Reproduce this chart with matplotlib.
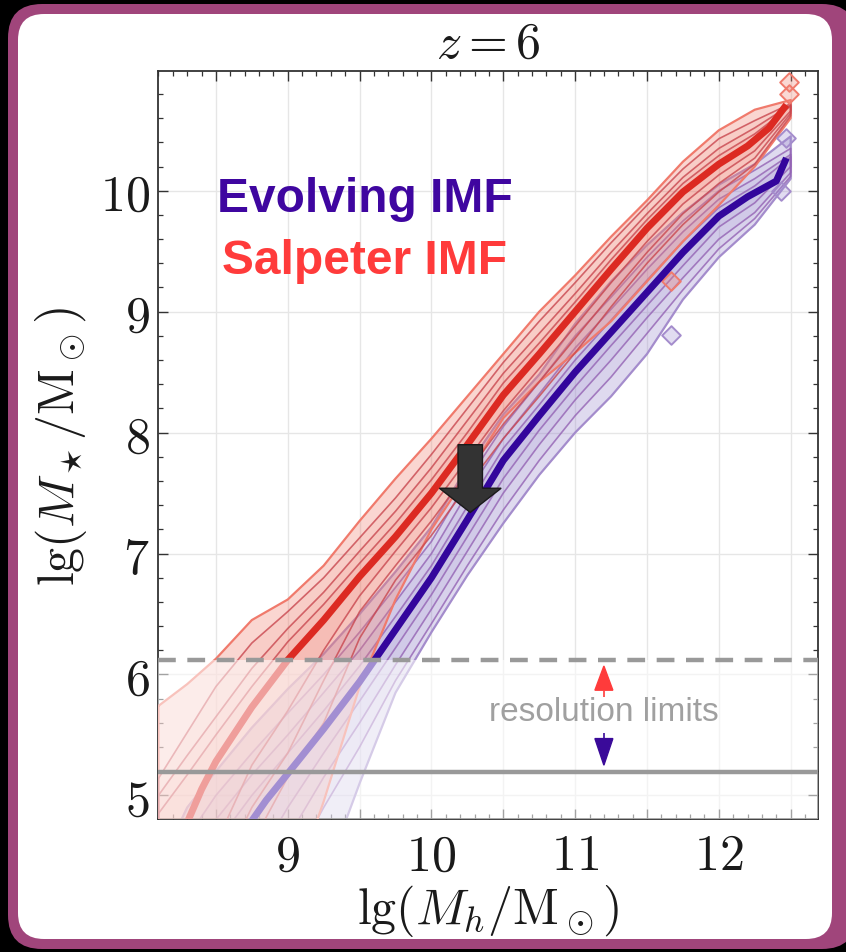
import matplotlib
matplotlib.use("Agg")
import matplotlib.pyplot as plt
from matplotlib.patches import FancyBboxPatch, FancyArrow
from matplotlib.ticker import MultipleLocator, FuncFormatter

plt.rcParams['mathtext.fontset'] = 'cm'
plt.rcParams['font.family'] = ['DejaVu Sans']

# ---------------- data ----------------
XB = [8.1, 8.3, 8.5, 8.75, 9.0, 9.25, 9.5, 9.75, 10.0, 10.25, 10.5,
      10.75, 11.0, 11.25, 11.5, 11.75, 12.0, 12.25, 12.5]

# Salpeter IMF contours
sal_outer_hi = [5.74, 5.92, 6.13, 6.45, 6.62, 6.90, 7.27, 7.62, 7.95, 8.30, 8.65, 9.00, 9.30, 9.62, 9.92, 10.24, 10.50, 10.67, 10.75]
sal_outer_lo = [3.5, 3.6, 3.8, 3.9, 4.1, 4.95, 5.9, 6.62, 7.2, 7.65, 8.12, 8.42, 8.66, 8.92, 9.25, 9.58, 9.88, 10.2, 10.6]
sal_l2_hi = [5.14, 5.52, 5.9, 6.26, 6.52, 6.8, 7.13, 7.46, 7.82, 8.2, 8.58, 8.92, 9.24, 9.57, 9.88, 10.18, 10.43, 10.58, 10.72]
sal_l2_lo = [3.4, 3.6, 4.0, 4.6, 5.15, 5.6, 6.3, 6.78, 7.15, 7.56, 7.95, 8.3, 8.66, 9.04, 9.40, 9.72, 9.99, 10.22, 10.62]
sal_l3_hi = [5.0, 5.33, 5.65, 6.05, 6.38, 6.68, 7.02, 7.35, 7.71, 8.1, 8.49, 8.82, 9.15, 9.49, 9.81, 10.11, 10.35, 10.52, 10.71]
sal_l3_lo = [3.5, 3.8, 4.3, 4.9, 5.35, 5.95, 6.52, 6.9, 7.27, 7.67, 8.07, 8.42, 8.78, 9.14, 9.49, 9.81, 10.06, 10.27, 10.64]
sal_l4_hi = [4.85, 5.17, 5.5, 5.9, 6.27, 6.58, 6.92, 7.25, 7.61, 8.0, 8.41, 8.74, 9.08, 9.43, 9.76, 10.06, 10.29, 10.47, 10.70]
sal_l4_lo = [3.6, 4.0, 4.6, 5.25, 5.7, 6.2, 6.65, 7.02, 7.38, 7.78, 8.18, 8.53, 8.88, 9.24, 9.58, 9.89, 10.13, 10.33, 10.66]
sal_med_x = [8.28, 8.4, 8.5, 8.75, 9.0, 9.25, 9.5, 9.75, 10.0, 10.25, 10.5, 10.75, 11.0, 11.25, 11.5, 11.75, 12.0, 12.2, 12.35, 12.47]
sal_med_y = [4.72, 5.05, 5.28, 5.73, 6.12, 6.45, 6.81, 7.14, 7.50, 7.90, 8.31, 8.65, 9.00, 9.35, 9.69, 9.99, 10.22, 10.37, 10.52, 10.71]
sal_islands_x = [12.49, 12.49, 11.67]
sal_islands_y = [10.90, 10.80, 9.25]

# Evolving IMF contours
evo_outer_hi = [4.4, 4.9, 5.2, 5.56, 5.88, 6.17, 6.5, 6.85, 7.22, 7.72, 8.15, 8.48, 8.9, 9.25, 9.55, 9.82, 10.05, 10.22, 10.45]
evo_outer_lo = [3.0, 3.0, 3.0, 3.0, 3.5, 4.3, 5.1, 5.85, 6.35, 6.82, 7.25, 7.65, 8.0, 8.3, 8.65, 9.1, 9.45, 9.72, 10.1]
evo_l2_hi = [4.3, 4.65, 5.0, 5.35, 5.68, 6.0, 6.35, 6.72, 7.1, 7.6, 8.05, 8.42, 8.8, 9.12, 9.45, 9.75, 10.0, 10.17, 10.35]
evo_l2_lo = [3.0, 3.0, 3.0, 3.8, 4.35, 4.9, 5.4, 5.95, 6.42, 6.9, 7.36, 7.77, 8.14, 8.46, 8.82, 9.18, 9.52, 9.77, 10.12]
evo_l3_hi = [4.1, 4.45, 4.8, 5.17, 5.5, 5.85, 6.2, 6.6, 7.0, 7.5, 7.95, 8.32, 8.7, 9.02, 9.35, 9.66, 9.93, 10.1, 10.3]
evo_l3_lo = [3.0, 3.0, 3.3, 4.1, 4.65, 5.15, 5.6, 6.08, 6.54, 7.02, 7.5, 7.9, 8.27, 8.6, 8.95, 9.28, 9.6, 9.82, 10.15]
evo_l4_hi = [3.9, 4.25, 4.6, 5.0, 5.35, 5.7, 6.07, 6.48, 6.9, 7.39, 7.87, 8.23, 8.6, 8.93, 9.26, 9.58, 9.86, 10.04, 10.28]
evo_l4_lo = [3.0, 3.2, 3.6, 4.4, 4.9, 5.35, 5.78, 6.22, 6.66, 7.14, 7.62, 8.02, 8.38, 8.72, 9.05, 9.38, 9.7, 9.9, 10.2]
evo_med_x = [8.72, 8.85, 9.0, 9.25, 9.5, 9.75, 10.0, 10.25, 10.5, 10.75, 11.0, 11.25, 11.5, 11.75, 12.0, 12.2, 12.4, 12.47]
evo_med_y = [4.74, 4.96, 5.18, 5.55, 5.94, 6.37, 6.80, 7.28, 7.77, 8.14, 8.50, 8.83, 9.16, 9.49, 9.79, 9.95, 10.08, 10.27]
evo_islands_x = [12.47, 12.43, 11.67]
evo_islands_y = [10.44, 10.00, 8.81]

res_limit_salpeter = 6.12
res_limit_evolving = 5.19

title_text = r'$z=6$'
xlabel_text = r'$\mathrm{lg}(M_h/\mathrm{M}_\odot)$'
ylabel_text = r'$\mathrm{lg}(M_\star/\mathrm{M}_\odot)$'

# ---------------- figure ----------------
W, H = 846, 953
fig = plt.figure(figsize=(W / 100, H / 100), dpi=100)
fig.patch.set_facecolor('black')

bg = fig.add_axes([0, 0, 1, 1], zorder=0)
bg.set_xlim(0, W)
bg.set_ylim(H, 0)
bg.axis('off')
bg.add_patch(FancyBboxPatch((8, 5), 848, 945, boxstyle='round,pad=0,rounding_size=34',
                            fc='#a0457b', ec='none'))
bg.add_patch(FancyBboxPatch((18, 15), 814, 925, boxstyle='round,pad=0,rounding_size=26',
                            fc='white', ec='none'))

ax = fig.add_axes([158 / W, 1 - 820 / H, 660 / W, 748 / H], zorder=1)
ax.set_facecolor('white')
ax.set_xlim(8.097, 12.69)
ax.set_ylim(4.805, 10.99)

RED_FILL, RED_EDGE, RED_LINE, RED_MED = '#f08070', '#f07a6c', '#c9474f', '#dc2a22'
BLU_FILL, BLU_EDGE, BLU_LINE, BLU_MED = '#9d8cd0', '#a48ccc', '#9463b4', '#33069c'


def draw_family(outer, levels, fill, edge, line, zb):
    lo, hi = outer
    ax.fill_between(XB, lo, hi, facecolor=fill, alpha=0.32, edgecolor='none', zorder=zb)
    ax.fill_between(XB, lo, hi, facecolor='none', edgecolor=edge, lw=1.6, zorder=zb + 0.5)
    for (llo, lhi) in levels:
        ax.fill_between(XB, llo, lhi, facecolor=fill, alpha=0.10, edgecolor='none', zorder=zb)
        ax.fill_between(XB, llo, lhi, facecolor='none', edgecolor=line, lw=1.2,
                        alpha=0.8, zorder=zb + 0.5)


draw_family((evo_outer_lo, evo_outer_hi),
            [(evo_l2_lo, evo_l2_hi), (evo_l3_lo, evo_l3_hi), (evo_l4_lo, evo_l4_hi)],
            BLU_FILL, BLU_EDGE, BLU_LINE, 2)
draw_family((sal_outer_lo, sal_outer_hi),
            [(sal_l2_lo, sal_l2_hi), (sal_l3_lo, sal_l3_hi), (sal_l4_lo, sal_l4_hi)],
            RED_FILL, RED_EDGE, RED_LINE, 3)

ax.scatter(evo_islands_x, evo_islands_y, marker='D', s=90, facecolor=(0.62, 0.55, 0.82, 0.3),
           edgecolor=BLU_EDGE, lw=1.4, zorder=4)
ax.scatter(sal_islands_x, sal_islands_y, marker='D', s=90, facecolor=(0.94, 0.5, 0.44, 0.3),
           edgecolor=RED_EDGE, lw=1.4, zorder=4)

ax.plot(evo_med_x, evo_med_y, color=BLU_MED, lw=5, solid_capstyle='butt', zorder=6)
ax.plot(sal_med_x, sal_med_y, color=RED_MED, lw=5, solid_capstyle='butt', zorder=6)

# fade below the upper resolution limit
ax.axhspan(4.0, res_limit_salpeter, facecolor='white', alpha=0.55, edgecolor='none', zorder=8)

ax.axhline(res_limit_salpeter, color='#999999', lw=3.2, dashes=(4, 2.6), zorder=9)
ax.axhline(res_limit_evolving, color='#999999', lw=3.2, zorder=9)

ax.text(11.2, 5.69, 'resolution limits', color='#a0a0a0', fontsize=24,
        family='Liberation Sans', ha='center', va='center', zorder=10)
# small arrows
ax.plot([11.2, 11.2], [5.81, 5.87], color='#ff3b3b', lw=1.2, ls='--', zorder=10)
ax.add_patch(FancyArrow(11.2, 5.87, 0, 0.2, width=0.0001, head_width=0.125, head_length=0.2,
                        length_includes_head=True, fc='#ff3b3b', ec='#ff3b3b', zorder=10))
ax.plot([11.2, 11.2], [5.52, 5.47], color='#3a0a99', lw=1.2, ls='--', zorder=10)
ax.add_patch(FancyArrow(11.2, 5.47, 0, -0.22, width=0.0001, head_width=0.125, head_length=0.22,
                        length_includes_head=True, fc='#3a0a99', ec='#3a0a99', zorder=10))

# big dark arrow
ax.add_patch(FancyArrow(10.27, 7.90, 0, -0.56, width=0.17, head_width=0.43, head_length=0.20,
                        length_includes_head=True, fc='#333333', ec='#1a1a1a', lw=1, zorder=20))

# labels
ax.text(8.51, 9.83, 'Evolving IMF', color='#3f06a0', fontsize=34.5, fontweight='bold',
        family='Liberation Sans', ha='left', va='baseline', zorder=12)
ax.text(8.54, 9.32, 'Salpeter IMF', color='#ff3b3b', fontsize=34.5, fontweight='bold',
        family='Liberation Sans', ha='left', va='baseline', zorder=12)

# axes styling
ax.xaxis.set_major_locator(MultipleLocator(0.5))
ax.xaxis.set_minor_locator(MultipleLocator(0.1))
ax.yaxis.set_major_locator(MultipleLocator(1))
ax.yaxis.set_minor_locator(MultipleLocator(0.2))
ax.xaxis.set_major_formatter(FuncFormatter(
    lambda v, p: r'$%d$' % round(v) if abs(v - round(v)) < 1e-6 else ''))
ax.yaxis.set_major_formatter(FuncFormatter(lambda v, p: r'$%d$' % round(v)))
ax.tick_params(which='both', direction='in', top=True, right=True, colors='#333333',
               labelcolor='#1a1a1a')
ax.tick_params(which='major', length=7.2, width=1.0, labelsize=36)
ax.tick_params(axis='x', which='major', pad=9)
ax.tick_params(axis='y', which='major', pad=6)
ax.tick_params(which='minor', length=3.6, width=0.9)
for s in ax.spines.values():
    s.set_color('#333333')
    s.set_linewidth(1.3)
ax.grid(True, which='major', color='#e6e6e6', lw=1.0, zorder=0)
ax.set_axisbelow(True)

ax.set_title(title_text, fontsize=36, pad=10, color='#1a1a1a')
ax.set_xlabel(xlabel_text, fontsize=36, labelpad=2, color='#1a1a1a')
ax.set_ylabel(ylabel_text, fontsize=36, labelpad=8, color='#1a1a1a')

fig.savefig('out.png', dpi=100, facecolor=fig.get_facecolor())
